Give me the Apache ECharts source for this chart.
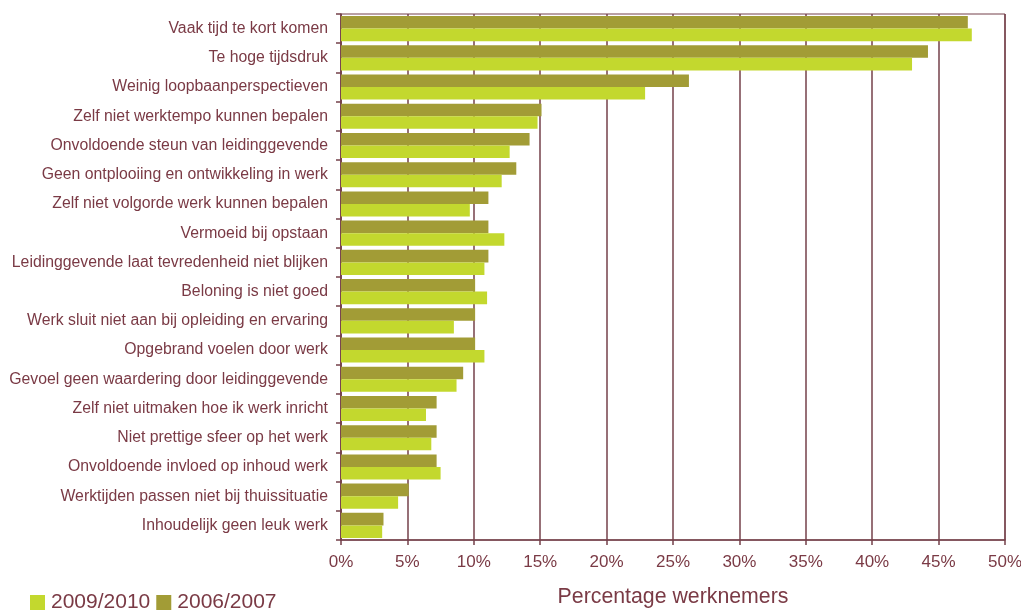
<!DOCTYPE html>
<html>
<head>
<meta charset="utf-8">
<script src="https://cdn.jsdelivr.net/npm/echarts@6/dist/echarts.min.js"></script>
<style>
  html, body { margin: 0; padding: 0; background: #ffffff; }
  #chart { width: 1021px; height: 610px; }
</style>
</head>
<body>
<div id="chart"></div>
<script>
// Redenen / klachten, aandeel werknemers per meetperiode
const categories = [
  'Vaak tijd te kort komen',
  'Te hoge tijdsdruk',
  'Weinig loopbaanperspectieven',
  'Zelf niet werktempo kunnen bepalen',
  'Onvoldoende steun van leidinggevende',
  'Geen ontplooiing en ontwikkeling in werk',
  'Zelf niet volgorde werk kunnen bepalen',
  'Vermoeid bij opstaan',
  'Leidinggevende laat tevredenheid niet blijken',
  'Beloning is niet goed',
  'Werk sluit niet aan bij opleiding en ervaring',
  'Opgebrand voelen door werk',
  'Gevoel geen waardering door leidinggevende',
  'Zelf niet uitmaken hoe ik werk inricht',
  'Niet prettige sfeer op het werk',
  'Onvoldoende invloed op inhoud werk',
  'Werktijden passen niet bij thuissituatie',
  'Inhoudelijk geen leuk werk'
];

const values2006 = [47.2, 44.2, 26.2, 15.1, 14.2, 13.2, 11.1, 11.1, 11.1, 10.1, 10.1, 10.1, 9.2, 7.2, 7.2, 7.2, 5.1, 3.2];
const values2009 = [47.5, 43.0, 22.9, 14.8, 12.7, 12.1, 9.7, 12.3, 10.8, 11.0, 8.5, 10.8, 8.7, 6.4, 6.8, 7.5, 4.3, 3.1];

const xTicks = [0, 5, 10, 15, 20, 25, 30, 35, 40, 45, 50];

const maroon = '#7a3a45';
const lineColor = '#74404a';
const font = 'Liberation Sans, Arial, sans-serif';

const chart = echarts.init(document.getElementById('chart'));

chart.setOption({
  animation: false,
  backgroundColor: '#ffffff',
  textStyle: { fontFamily: font, color: maroon },
  grid: {
    left: 341,
    right: 16,
    top: 14,
    bottom: 70,
    outerBoundsMode: 'none',
    containLabel: false,
    show: true,
    borderColor: lineColor,
    borderWidth: 1
  },
  legend: {
    left: 30,
    top: 592,
    padding: 0,
    icon: 'rect',
    itemWidth: 15,
    itemHeight: 15,
    itemGap: 6,
    data: ['2009/2010', '2006/2007'],
    textStyle: { fontFamily: font, fontSize: 21, color: maroon, padding: [0, 0, 0, 1] }
  },
  xAxis: {
    type: 'value',
    min: xTicks[0],
    max: xTicks[xTicks.length - 1],
    interval: xTicks[1] - xTicks[0],
    name: 'Percentage werknemers',
    nameLocation: 'middle',
    nameGap: 47,
    nameTextStyle: { fontFamily: font, fontSize: 21.3, color: maroon },
    axisLine: { show: true, lineStyle: { color: lineColor, width: 1.5 } },
    axisTick: { show: true, length: 5, lineStyle: { color: lineColor, width: 1.5 } },
    axisLabel: {
      margin: 14,
      fontFamily: font,
      fontSize: 17,
      color: maroon,
      formatter: v => v + '%'
    },
    splitLine: { show: true, lineStyle: { color: lineColor, width: 1.5 } }
  },
  yAxis: {
    type: 'category',
    inverse: true,
    data: categories,
    axisLine: { show: true, lineStyle: { color: lineColor, width: 1.5 } },
    axisTick: { show: true, length: 5, lineStyle: { color: lineColor, width: 1.5 } },
    axisLabel: {
      margin: 13,
      fontFamily: font,
      fontSize: 15.8,
      color: maroon
    },
    splitLine: { show: false }
  },
  series: [
    {
      name: '2006/2007',
      type: 'bar',
      data: values2006,
      barGap: '0%',
      barCategoryGap: '14%',
      itemStyle: { color: '#a29c36' }
    },
    {
      name: '2009/2010',
      type: 'bar',
      data: values2009,
      barGap: '0%',
      barCategoryGap: '14%',
      itemStyle: { color: '#c3d82e' }
    }
  ]
});
</script>
</body>
</html>
